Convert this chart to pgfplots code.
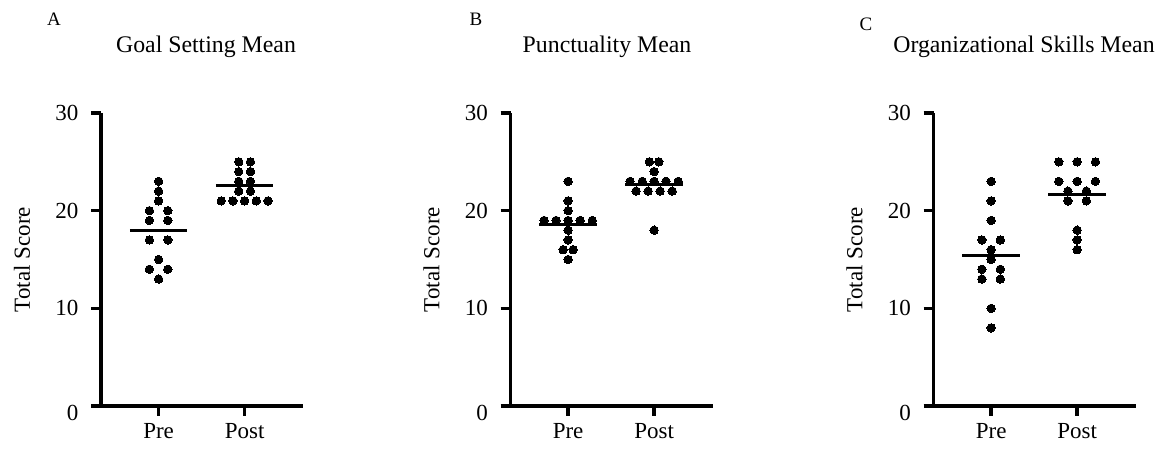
\documentclass[border=0pt]{standalone}
\usepackage{pgfplots}
\pgfplotsset{compat=1.18}
\usepackage{fontspec}
\setmainfont{Liberation Serif}
\newcommand{\bigf}{\fontsize{23bp}{26bp}\selectfont}
\newcommand{\titf}{\fontsize{23.8bp}{27bp}\selectfont}
\newcommand{\letf}{\fontsize{19bp}{22bp}\selectfont}
\pgfplotsset{
  panel/.style={
    scale only axis, width=202bp, height=293bp,
    anchor=south west,
    xmin=0.33, xmax=2.679, ymin=0, ymax=30,
    clip=false,
    axis x line*=bottom, axis y line*=left,
    axis line style={line width=3.4bp, black},
    x axis line style={shorten <=-8bp},
    xtick={1,2}, xticklabels={Pre,Post},
    ytick={10,20,30},
    extra y ticks={0}, extra y tick labels={0},
    extra y tick style={yticklabel style={yshift=-7bp}},
    tick align=outside,
    major tick length=10bp,
    tick style={line width=3.4bp, black},
    /pgf/number format/assume math mode=true,
    tick label style={font=\bigf},
    yticklabel style={xshift=-9bp},
    xticklabel style={yshift=-4bp},
    ylabel={Total Score},
    label style={font=\bigf},
    ylabel style={at={(axis description cs:0,0.5)}, anchor=center, yshift=79bp},
  },
  dots/.style={only marks, mark=*, mark size=4.2bp, black, mark options={fill=black, draw=black, line width=0pt}},
  meanline/.style={black, line width=3bp, no marks},
}
\begin{document}
\begin{tikzpicture}[x=1bp,y=1bp]
\path[use as bounding box] (0,0) rectangle (1161,453);
% Panel A
\begin{axis}[panel, at={(101bp,47bp)}]
\addplot[dots] coordinates {(1,23) (1,22) (1,21) (0.893,20) (1.107,20) (0.893,19) (1.107,19) (0.893,17) (1.107,17) (1,15) (0.893,14) (1.107,14) (1,13)};
\addplot[dots] coordinates {(1.932,25) (2.068,25) (1.932,24) (2.068,24) (1.932,23) (2.068,23) (1.932,22) (2.068,22) (1.728,21) (1.864,21) (2,21) (2.136,21) (2.272,21)};
\addplot[meanline] coordinates {(0.665,18.0) (1.335,18.0)};
\addplot[meanline] coordinates {(1.665,22.54) (2.335,22.54)};
\end{axis}
% Panel B
\begin{axis}[panel, at={(510.5bp,47bp)}]
\addplot[dots] coordinates {(1,23) (1,21) (1,20) (0.72,19) (0.86,19) (1,19) (1.14,19) (1.28,19) (1,18) (1,17) (0.942,16) (1.058,16) (1,15)};
\addplot[dots] coordinates {(1.945,25) (2.055,25) (2,24) (1.72,23) (1.862,23) (2,23) (2.138,23) (2.28,23) (1.79,22) (1.93,22) (2.07,22) (2.21,22) (2,18)};
\addplot[meanline] coordinates {(0.665,18.54) (1.335,18.54)};
\addplot[meanline] coordinates {(1.665,22.69) (2.335,22.69)};
\end{axis}
% Panel C
\begin{axis}[panel, at={(933.5bp,47bp)}]
\addplot[dots] coordinates {(1,23) (1,21) (1,19) (0.893,17) (1.107,17) (1,16) (1,15) (0.893,14) (1.107,14) (0.893,13) (1.107,13) (1,10) (1,8)};
\addplot[dots] coordinates {(1.787,25) (2,25) (2.213,25) (1.787,23) (2,23) (2.213,23) (1.893,22) (2.107,22) (1.893,21) (2.107,21) (2,18) (2,17) (2,16)};
\addplot[meanline] coordinates {(0.665,15.38) (1.335,15.38)};
\addplot[meanline] coordinates {(1.665,21.62) (2.335,21.62)};
\end{axis}
% titles and panel letters
\node[font=\titf, anchor=base] at (206,400.5) {Goal Setting Mean};
\node[font=\titf, anchor=base] at (607,400.5) {Punctuality Mean};
\node[font=\titf, anchor=base] at (1024,400.5) {Organizational Skills Mean};
\node[font=\letf] at (54,434) {A};
\node[font=\letf] at (476,434) {B};
\node[font=\letf] at (866,429) {C};
\end{tikzpicture}
\end{document}
